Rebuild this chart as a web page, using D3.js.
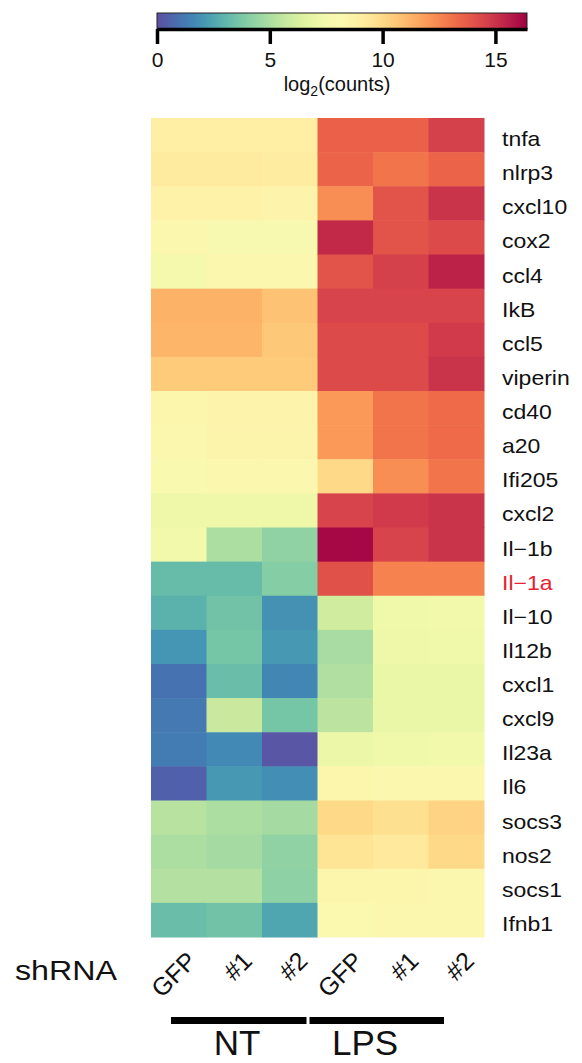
<!DOCTYPE html>
<html>
<head>
<meta charset="utf-8">
<script src="https://cdn.jsdelivr.net/npm/d3@7"></script>
<style>
  html, body { margin: 0; padding: 0; background: #fff; }
  svg { display: block; }
  text { font-family: "Liberation Sans", Arial, Helvetica, sans-serif; fill: #111; }
</style>
</head>
<body>
<svg id="chart" width="582" height="1063"></svg>
<script>
// Genes (rows, top to bottom)
const genes = ["tnfa","nlrp3","cxcl10","cox2","ccl4","IkB","ccl5","viperin","cd40","a20",
  "Ifi205","cxcl2","Il\u22121b","Il\u22121a","Il\u221210","Il12b","cxcl1","cxcl9","Il23a","Il6",
  "socs3","nos2","socs1","Ifnb1"];
const highlightGene = "Il\u22121a";

// Samples (columns) and their labels
const samples = ["NT_GFP","NT_1","NT_2","LPS_GFP","LPS_1","LPS_2"];
const sampleLabels = ["GFP","#1","#2","GFP","#1","#2"];
const groups = [
  { name: "NT", from: "NT_GFP", to: "NT_2" },
  { name: "LPS", from: "LPS_GFP", to: "LPS_2" }
];

// log2(counts) per sample, one array per column, in gene order
const NT_GFP  = [9.0, 9.2, 8.8, 8.3, 7.6, 11.3, 11.2, 10.5, 8.5, 8.3, 8.0, 7.2, 7.4, 3.2, 2.9, 2.0, 1.0, 1.2, 1.3, 0.5, 5.3, 5.0, 5.2, 3.3];
const NT_1    = [9.0, 9.2, 8.8, 7.9, 8.4, 11.3, 11.2, 10.5, 8.7, 8.6, 8.4, 7.2, 5.0, 3.2, 3.5, 3.6, 3.3, 5.8, 1.7, 2.1, 5.0, 4.8, 5.2, 3.5];
const NT_2    = [9.0, 9.1, 8.7, 7.9, 8.4, 10.8, 10.6, 10.5, 8.7, 8.6, 8.4, 7.2, 4.3, 4.0, 1.9, 2.1, 1.6, 3.6, 0.2, 1.8, 4.8, 4.3, 4.2, 2.5];
const LPS_GFP = [13.6, 13.5, 12.3, 15.3, 14.0, 14.5, 14.3, 14.3, 12.0, 12.0, 10.0, 14.5, 16.2, 14.1, 6.0, 4.9, 5.1, 5.4, 7.1, 8.5, 10.0, 9.5, 8.5, 8.2];
const LPS_1   = [13.6, 13.0, 14.0, 14.0, 14.6, 14.5, 14.3, 14.3, 13.0, 13.0, 12.3, 14.8, 14.5, 12.6, 7.3, 7.2, 7.0, 7.0, 7.3, 8.3, 9.7, 9.3, 8.5, 8.4];
const LPS_2   = [14.6, 13.5, 15.0, 14.3, 15.5, 14.5, 14.8, 15.0, 13.3, 13.3, 13.0, 15.0, 15.0, 12.6, 7.4, 7.3, 7.0, 7.0, 7.4, 8.3, 10.2, 10.0, 8.3, 8.4];
const columns = { NT_GFP, NT_1, NT_2, LPS_GFP, LPS_1, LPS_2 };

// Colour bar
const legendTicks = [0, 5, 10, 15];
const legendDomain = [0, 16.4];

// Build the cell table
const cells = [];
samples.forEach(s => genes.forEach((g, i) => cells.push({ sample: s, gene: g, value: columns[s][i] })));

const svg = d3.select("#chart");

const color = d3.scaleSequential(t => d3.interpolateSpectral(1 - t)).domain(legendDomain);

// ---- Heatmap ----
const x = d3.scaleBand().domain(samples).range([151, 484]);
const y = d3.scaleBand().domain(genes).range([118, 937]);

svg.append("g").selectAll("rect")
  .data(cells)
  .join("rect")
  .attr("x", d => x(d.sample))
  .attr("y", d => y(d.gene))
  .attr("width", x.bandwidth() + 0.5)
  .attr("height", y.bandwidth() + 0.5)
  .attr("fill", d => color(d.value));

// Gene labels on the right
svg.append("g").selectAll("text")
  .data(genes)
  .join("text")
  .attr("transform", d => `translate(502,${y(d) + y.bandwidth() / 2 + 11}) scale(1.15,1)`)
  .attr("font-size", 20)
  .style("fill", d => d === highlightGene ? "#e8202f" : "#111")
  .text(d => d);

// Column labels, rotated
svg.append("g").selectAll("text")
  .data(samples)
  .join("text")
  .attr("transform", d => `translate(${x(d) + x.bandwidth() / 2 + 7},${950}) rotate(-45)`)
  .attr("text-anchor", "end")
  .attr("dy", "0.7em")
  .attr("font-size", 25)
  .text((d, i) => sampleLabels[i]);

svg.append("text")
  .attr("transform", "translate(15,980) scale(1.15,1)")
  .attr("font-size", 28)
  .text("shRNA");

// Group bars and names
const groupG = svg.append("g");
groups.forEach((g, i) => {
  const x0 = x(g.from) + 20 - (i === 1 ? 28 : 0);
  const x1 = x(g.to) + x.bandwidth() - (i === 0 ? 11 : 40);
  groupG.append("rect")
    .attr("x", x0).attr("y", 1017)
    .attr("width", x1 - x0).attr("height", 7)
    .attr("fill", "#000");
  groupG.append("text")
    .attr("x", i === 0 ? 237 : 365)
    .attr("y", 1055)
    .attr("text-anchor", "middle")
    .attr("font-size", 35)
    .text(g.name);
});

// ---- Colour bar legend ----
const lx = d3.scaleLinear().domain(legendDomain).range([157, 527]);
const defs = svg.append("defs");
const grad = defs.append("linearGradient").attr("id", "legendGrad")
  .attr("x1", "0%").attr("x2", "100%").attr("y1", "0%").attr("y2", "0%");
d3.range(0, 1.0001, 0.05).forEach(t => {
  grad.append("stop")
    .attr("offset", `${t * 100}%`)
    .attr("stop-color", color(legendDomain[0] + t * (legendDomain[1] - legendDomain[0])));
});

svg.append("rect")
  .attr("x", lx(legendDomain[0])).attr("y", 13)
  .attr("width", lx(legendDomain[1]) - lx(legendDomain[0])).attr("height", 16)
  .attr("fill", "url(#legendGrad)")
  .attr("stroke", "#222").attr("stroke-width", 1);

const axis = svg.append("g")
  .attr("transform", "translate(0,29)")
  .call(d3.axisBottom(lx).tickValues(legendTicks).tickSize(15).tickSizeOuter(0).tickPadding(8));
axis.select(".domain").attr("stroke", "#000").attr("stroke-width", 3.5);
axis.selectAll(".tick line").attr("stroke", "#000").attr("stroke-width", 3.5);
axis.selectAll(".tick text")
  .attr("font-size", 21)
  .attr("font-family", "Liberation Sans, Arial, sans-serif")
  .attr("fill", "#111");

const cap = svg.append("text")
  .attr("x", 337).attr("y", 91)
  .attr("text-anchor", "middle")
  .attr("font-size", 20);
cap.append("tspan").text("log");
cap.append("tspan").attr("font-size", 14).attr("dy", 5).text("2");
cap.append("tspan").attr("dy", -5).text("(counts)");
</script>
</body>
</html>
